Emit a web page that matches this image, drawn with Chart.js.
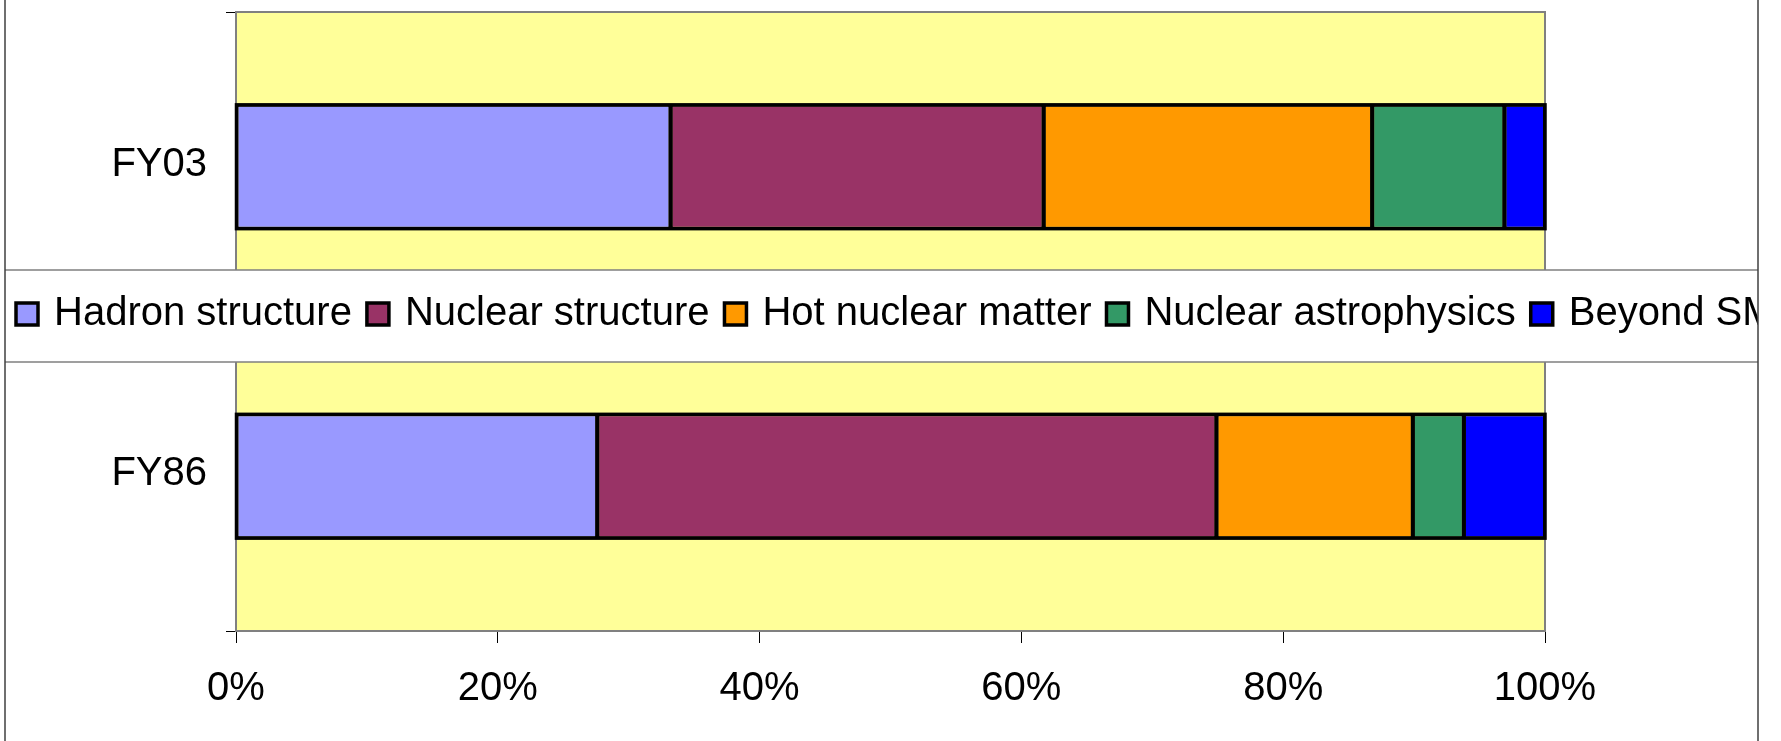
<!DOCTYPE html>
<html>
<head>
<meta charset="utf-8">
<script src="https://cdn.jsdelivr.net/npm/chart.js@4.4.1/dist/chart.umd.min.js"></script>
<style>
  html, body { margin: 0; padding: 0; background: #fff; }
  canvas { display: block; }
</style>
</head>
<body>
<canvas id="chart" width="1781" height="741"></canvas>
<script>
// Share of research funding by field, in percent of the total for each year
const categories = ['FY03', 'FY86'];
const seriesNames = ['Hadron structure', 'Nuclear structure', 'Hot nuclear matter', 'Nuclear astrophysics', 'Beyond SM'];
const hadronStructure = [33.2, 27.6];
const nuclearStructure = [28.5, 47.3];
const hotNuclearMatter = [25.1, 15.0];
const nuclearAstrophysics = [10.1, 3.9];
const beyondSM = [3.1, 6.2];
const seriesColors = ['#9999FF', '#993366', '#FF9900', '#339966', '#0000FF'];
const xTickValues = [0, 20, 40, 60, 80, 100];

const FONT_FAMILY = '"Liberation Sans", Arial, sans-serif';
const seriesValues = [hadronStructure, nuclearStructure, hotNuclearMatter, nuclearAstrophysics, beyondSM];

// White page, yellow plot area and the grey frame round it
const plotBackground = {
  id: 'plotBackground',
  beforeDraw(chart) {
    const { ctx, chartArea: a } = chart;
    ctx.save();
    ctx.fillStyle = '#ffffff';
    ctx.fillRect(0, 0, chart.width, chart.height);
    ctx.fillStyle = '#FFFF99';
    ctx.fillRect(a.left, a.top, a.right - a.left, a.bottom - a.top);
    ctx.restore();
  },
  beforeDatasetsDraw(chart) {
    const { ctx, chartArea: a } = chart;
    ctx.save();
    ctx.strokeStyle = '#808080';
    ctx.lineWidth = 2;
    ctx.beginPath();
    ctx.moveTo(a.left, a.top);
    ctx.lineTo(a.right, a.top);
    ctx.lineTo(a.right, a.bottom);
    ctx.stroke();
    ctx.restore();
  },
  // heavy black outline round each stacked bar and between its segments
  afterDatasetsDraw(chart) {
    const ctx = chart.ctx;
    const n = chart.data.datasets.length;
    const first = chart.getDatasetMeta(0).data;
    ctx.save();
    ctx.strokeStyle = '#000';
    first.forEach((el, i) => {
      const p0 = el.getProps(['y', 'base', 'height'], true);
      const top = p0.y - p0.height / 2;
      const bottom = p0.y + p0.height / 2;
      const ends = [];
      for (let d = 0; d < n; d++) {
        ends.push(chart.getDatasetMeta(d).data[i].getProps(['x'], true).x);
      }
      const right = ends[n - 1];
      ctx.lineWidth = 4;
      ctx.beginPath();
      for (let d = 0; d < n - 1; d++) {
        ctx.moveTo(ends[d], top);
        ctx.lineTo(ends[d], bottom);
      }
      ctx.stroke();
      ctx.lineWidth = 3.5;
      ctx.strokeRect(p0.base, top, right - p0.base, bottom - top);
    });
    ctx.restore();
  }
};

// Legend strip laid across the middle of the plot, clipped by the chart frame
const stripLegend = {
  id: 'stripLegend',
  afterDraw(chart) {
    const ctx = chart.ctx;
    const left = 5, right = 1758, top = 270, bottom = 362;
    ctx.save();
    ctx.fillStyle = '#ffffff';
    ctx.fillRect(left, top, right - left, bottom - top);
    ctx.strokeStyle = '#808080';
    ctx.lineWidth = 1.5;
    ctx.beginPath();
    ctx.moveTo(left, top); ctx.lineTo(right, top);
    ctx.moveTo(left, bottom); ctx.lineTo(right, bottom);
    ctx.stroke();

    ctx.beginPath();
    ctx.rect(left, top - 2, right - left, bottom - top + 4);
    ctx.clip();
    ctx.font = '40px ' + FONT_FAMILY;
    ctx.textBaseline = 'alphabetic';
    ctx.textAlign = 'left';
    const box = 22, boxTop = 303, baseline = 325;
    let x = 16;
    chart.data.datasets.forEach(ds => {
      ctx.fillStyle = ds.backgroundColor;
      ctx.fillRect(x, boxTop, box, box);
      ctx.strokeStyle = '#000';
      ctx.lineWidth = 3.5;
      ctx.strokeRect(x, boxTop, box, box);
      const tx = x + 38;
      ctx.fillStyle = '#000';
      ctx.fillText(ds.label, tx, baseline);
      x = tx + ctx.measureText(ds.label).width + 15;
    });
    ctx.restore();

    // outer chart frame (left and right edges)
    ctx.save();
    ctx.strokeStyle = '#404040';
    ctx.lineWidth = 1.5;
    ctx.beginPath();
    ctx.moveTo(5, 0); ctx.lineTo(5, chart.height);
    ctx.moveTo(1758, 0); ctx.lineTo(1758, chart.height);
    ctx.stroke();
    ctx.restore();
  }
};

Chart.defaults.font.family = FONT_FAMILY;
Chart.defaults.color = '#000';

new Chart(document.getElementById('chart'), {
  type: 'bar',
  data: {
    labels: categories,
    datasets: seriesNames.map((name, i) => ({
      label: name,
      data: seriesValues[i],
      backgroundColor: seriesColors[i],
      borderColor: '#000',
      borderWidth: 2,
      borderSkipped: false,
      inflateAmount: 0,
      barPercentage: 0.4,
      categoryPercentage: 1.0
    }))
  },
  options: {
    indexAxis: 'y',
    responsive: false,
    animation: false,
    devicePixelRatio: 1,
    layout: { padding: { top: 12, right: 236, bottom: 0, left: 0 } },
    plugins: {
      legend: { display: false },
      tooltip: { enabled: false }
    },
    scales: {
      x: {
        type: 'linear',
        stacked: true,
        min: 0,
        max: 100,
        afterFit(scale) { scale.height = 110; scale.paddingLeft = 0; scale.paddingRight = 0; },
        afterBuildTicks(scale) { scale.ticks = xTickValues.map(v => ({ value: v })); },
        ticks: {
          font: { size: 40 },
          padding: 22,
          maxRotation: 0,
          callback: v => v + '%'
        },
        grid: { drawOnChartArea: false, drawTicks: true, tickLength: 12, color: '#000', lineWidth: 1 },
        border: { display: true, color: '#808080', width: 2 }
      },
      y: {
        type: 'category',
        stacked: true,
        offset: true,
        afterFit(scale) { scale.width = 236; scale.paddingTop = 0; scale.paddingBottom = 0; },
        ticks: {
          font: { size: 40 },
          padding: 19,
          labelOffset: -2
        },
        grid: { offset: true, drawOnChartArea: false, drawTicks: true, tickLength: 10, color: '#000', lineWidth: 1 },
        border: { display: true, color: '#808080', width: 2 }
      }
    }
  },
  plugins: [plotBackground, stripLegend]
});
</script>
</body>
</html>
